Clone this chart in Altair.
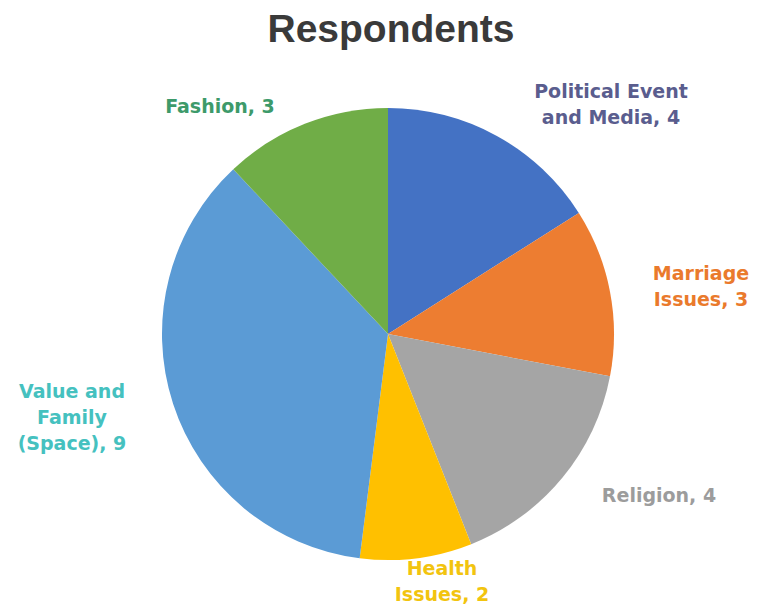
import altair as alt
import pandas as pd

# ---- data ----
categories = ["Political Event and Media", "Marriage Issues", "Religion",
              "Health Issues", "Value and Family (Space)", "Fashion"]
values = [4, 3, 4, 2, 9, 3]
label_texts = ["Political Event\nand Media,  4", "Marriage\nIssues, 3", "Religion, 4",
               "Health\nIssues, 2", "Value and\nFamily\n(Space),  9", "Fashion, 3"]

# ---- styling / layout ----
slice_colors = ["#4472C4", "#ED7D31", "#A5A5A5", "#FFC000", "#5B9BD5", "#70AD47"]
label_colors = ["#5a5d8e", "#ea7a2c", "#9c9c9c", "#f2c40f", "#45c1bf", "#3d9a6a"]
label_x = [611, 701, 659, 442, 72, 220]
label_y = [98, 280, 502, 575, 398, 113]

df = pd.DataFrame({
    "category": categories,
    "value": values,
    "order": list(range(len(categories))),
    "label": label_texts,
    "lx": label_x,
    "ly": label_y,
})

W, H = 759, 607

pie = alt.Chart(df).mark_arc(radius=226).encode(
    theta=alt.Theta("value:Q", stack=True),
    order=alt.Order("order:Q"),
    color=alt.Color("category:N", scale=alt.Scale(domain=categories, range=slice_colors), legend=None),
    x=alt.value(388),
    y=alt.value(334),
)

labels = alt.Chart(df).mark_text(
    font="DejaVu Sans", fontWeight="bold", fontSize=19, lineBreak="\n",
    lineHeight=26, align="center", baseline="alphabetic",
).encode(
    x=alt.X("lx:Q", scale=None, axis=None),
    y=alt.Y("ly:Q", scale=None, axis=None),
    text="label:N",
    color=alt.Color("category:N", scale=alt.Scale(domain=categories, range=label_colors), legend=None),
)

title = alt.Chart(pd.DataFrame({"t": ["Respondents"]})).mark_text(
    font="Liberation Sans", fontWeight="bold", fontSize=39, color="#3a3a3a",
    align="center", baseline="alphabetic",
).encode(text="t:N", x=alt.value(391), y=alt.value(42))

chart = alt.layer(pie, labels, title).resolve_scale(color="independent").properties(
    width=W, height=H, padding=0, autosize=alt.AutoSizeParams(type="none")
).configure_view(stroke=None)

chart.save("out.html", embed_options={"renderer": "svg", "actions": False})
